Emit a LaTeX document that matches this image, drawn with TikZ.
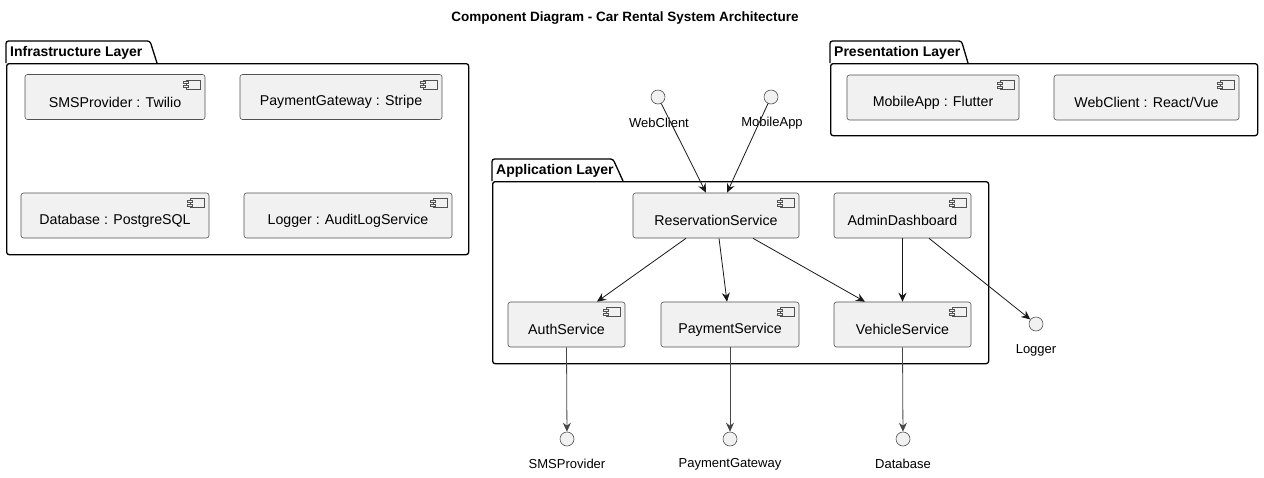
\documentclass[tikz,border=0pt]{standalone}
\usepackage{fontspec}
\setmainfont{Liberation Sans}
\usetikzlibrary{arrows.meta,calc}
\definecolor{compfill}{HTML}{F1F1F1}
\definecolor{compline}{HTML}{181818}
\tikzset{
  compstyle/.style={draw=compline!75, line width=0.6pt, fill=compfill, rounded corners=2.5pt, minimum height=45pt, inner sep=0pt},
  comptext/.style={font=\fontsize{14.2}{17}\selectfont, inner sep=0pt, text=black},
  iconstyle/.style={draw=compline!75, line width=0.5pt, fill=compfill},
  ifcircle/.style={circle, draw=compline!75, line width=0.6pt, fill=compfill, minimum size=14pt, inner sep=0pt},
  iflabel/.style={font=\fontsize{13}{15}\selectfont, inner sep=0pt},
  pkgline/.style={draw=black, line width=1.3pt},
  pkgbody/.style={pkgline, rounded corners=2.5pt, inner sep=0pt, anchor=north west},
  pkgtitle/.style={font=\bfseries\fontsize{14}{17}\selectfont, inner sep=0pt, anchor=west},
  conn/.style={draw=compline, line width=0.8pt, -{Stealth[length=9pt,width=8pt,inset=3pt]}},
  connv/.style={draw=compline!80, line width=0.8pt, -{Stealth[length=9pt,width=8pt,inset=3pt]}},
}
\newcommand\compbox[5]{%
  \node[compstyle, minimum width=#4pt] (#1) at (#2,#3) {};
  \node[comptext] (#1-t) at ([yshift=-5pt]#1.center) {#5};
  \draw[iconstyle] ([xshift=-19pt,yshift=-6pt]#1.north east) rectangle ([xshift=-5pt,yshift=-15pt]#1.north east);
  \draw[iconstyle] ([xshift=-22pt,yshift=-7.5pt]#1.north east) rectangle ([xshift=-17pt,yshift=-9.5pt]#1.north east);
  \draw[iconstyle] ([xshift=-22pt,yshift=-11.5pt]#1.north east) rectangle ([xshift=-17pt,yshift=-13.5pt]#1.north east);
}
\newcommand\pkg[8]{% name, x0, y0 (tab top), tab top-right x, tab bottom-right x, body right x, body bottom y, title
  \path[pkgline, fill=white, rounded corners=2.5pt] (#2,#3+22) -- (#2,#3) -- (#4,#3) -- (#5,#3+22);
  \node[pkgbody, minimum width=#6pt-#2pt, minimum height=#7pt-#3pt-22pt] (#1) at (#2,#3+22) {};
  \node[pkgtitle] (#1-title) at (#2+4,#3+11.5) {#8};
}
\begin{document}
\begin{tikzpicture}[x=1pt,y=-1pt]
\useasboundingbox[fill=white] (0,0) rectangle (1264,477);
\node[font=\bfseries\fontsize{13.5}{16}\selectfont, inner sep=0pt] (title) at (625,18) {Component Diagram - Car Rental System Architecture};

% packages
\pkg{infra}{6}{41}{150}{157}{468}{254}{Infrastructure Layer}
\pkg{pres}{830}{41}{961.5}{968}{1257}{135}{Presentation Layer}
\pkg{app}{492}{159}{613}{623}{988}{363}{Application Layer}

% infrastructure components
\compbox{sms}{115}{97}{180}{SMSProvider : Twilio}
\compbox{pgw}{341}{97}{202}{PaymentGateway : Stripe}
\compbox{db}{115}{215.5}{188}{Database : PostgreSQL}
\compbox{log}{348}{215.5}{208}{Logger : AuditLogService}

% presentation components
\compbox{mob}{933}{97.5}{172}{MobileApp : Flutter}
\compbox{web}{1146.5}{97.5}{185}{WebClient : React/Vue}

% application components
\compbox{res}{716}{215.5}{166}{ReservationService}
\compbox{adm}{902.5}{215.5}{137}{AdminDashboard}
\compbox{auth}{566.5}{324.5}{117}{AuthService}
\compbox{pay}{730}{324.5}{138}{PaymentService}
\compbox{veh}{902.5}{324.5}{137}{VehicleService}

% interfaces
\node[ifcircle] (iweb) at (658,97) {};
\node[iflabel] (iweb-l) at (659,123) {WebClient};
\node[ifcircle] (imob) at (771,97) {};
\node[iflabel] (imob-l) at (772,123) {MobileApp};
\node[ifcircle] (ilog) at (1036,324) {};
\node[iflabel] (ilog-l) at (1036,350) {Logger};
\node[ifcircle] (isms) at (567,439) {};
\node[iflabel] (isms-l) at (567,464) {SMSProvider};
\node[ifcircle] (ipgw) at (730,439) {};
\node[iflabel] (ipgw-l) at (730,464) {PaymentGateway};
\node[ifcircle] (idb) at (903,439) {};
\node[iflabel] (idb-l) at (903,464) {Database};

% connectors
\coordinate (resin1) at ([xshift=-10pt]res.north);
\coordinate (resin2) at ([xshift=11pt]res.north);
\draw[conn] (iweb) -- (resin1);
\draw[conn] (imob) -- (resin2);
\draw[conn] ([xshift=-30pt]res.south) -- ([xshift=30.5pt]auth.north);
\draw[conn] ([xshift=3pt]res.south) -- ([xshift=-3pt]pay.north);
\draw[conn] ([xshift=37pt]res.south) -- ([xshift=-37.5pt]veh.north);
\draw[conn] (adm.south) -- (veh.north);
\draw[conn] ([xshift=26.5pt]adm.south) -- (ilog);
\draw[connv] (auth.south) -- (isms);
\draw[connv] (pay.south) -- (ipgw);
\draw[connv] (veh.south) -- (idb);
\end{tikzpicture}
\end{document}
